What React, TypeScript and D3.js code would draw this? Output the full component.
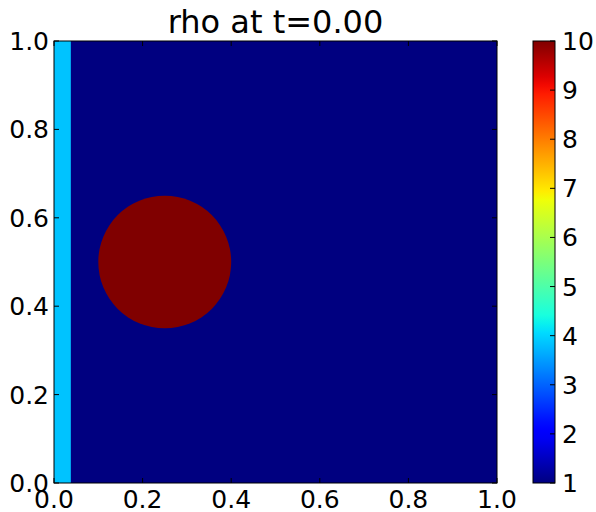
import React from "react";
import * as d3 from "d3";

// Initial density field: uniform background, a dense strip at the left wall and a dense bubble.
const fieldTitle = "rho at t=0.00";
const backgroundRho = [1];
const stripBounds = [0.0, 0.038]; // x-range of the left strip
const stripRho = [3.85];
const bubbleCenter = [0.25, 0.5];
const bubbleRadius = [0.15];
const bubbleRho = [10];
const axisTicks = [0.0, 0.2, 0.4, 0.6, 0.8, 1.0];
const colorTicks = [1, 2, 3, 4, 5, 6, 7, 8, 9, 10];
const colorDomain = [1, 10];

// matplotlib "jet" colour map, channel by channel
const jetR = d3.scaleLinear().domain([0, 0.35, 0.66, 0.89, 1]).range([0, 0, 1, 1, 0.5]).clamp(true);
const jetG = d3.scaleLinear().domain([0, 0.125, 0.375, 0.64, 0.91, 1]).range([0, 0, 1, 1, 0, 0]).clamp(true);
const jetB = d3.scaleLinear().domain([0, 0.11, 0.34, 0.65, 1]).range([0.5, 1, 1, 0, 0]).clamp(true);
const jet = (t: number) =>
  d3.rgb(Math.round(jetR(t) * 255), Math.round(jetG(t) * 255), Math.round(jetB(t) * 255)).formatHex();

const W = 596;
const H = 512;
const plot = { left: 54, right: 497, top: 41, bottom: 483 };
const cbar = { left: 533, right: 555 };
const FONT = "DejaVu Sans, sans-serif";
const TICK = 5;

export default function App() {
  const x = d3.scaleLinear().domain([0, 1]).range([plot.left, plot.right]);
  const y = d3.scaleLinear().domain([0, 1]).range([plot.bottom, plot.top]);
  const norm = d3.scaleLinear().domain(colorDomain).range([0, 1]);
  const color = (v: number) => jet(norm(v));
  const cy = d3.scaleLinear().domain(colorDomain).range([plot.bottom, plot.top]);

  const rx = x(bubbleRadius[0]) - x(0);
  const ry = y(0) - y(bubbleRadius[0]);
  const gradStops = d3.range(0, 1.0001, 0.02);

  return (
    <svg
      width={W}
      height={H}
      style={{ position: "absolute", left: 0, top: 0, display: "block" }}
      fontFamily={FONT}
    >
      <defs>
        <linearGradient id="jetbar" x1="0" y1="1" x2="0" y2="0">
          {gradStops.map((t) => (
            <stop key={t} offset={t} stopColor={jet(t)} />
          ))}
        </linearGradient>
        <clipPath id="plotclip">
          <rect x={plot.left} y={plot.top} width={plot.right - plot.left} height={plot.bottom - plot.top} />
        </clipPath>
      </defs>
      <rect width={W} height={H} fill="#fff" />

      {/* density field */}
      <g clipPath="url(#plotclip)">
        <rect
          x={x(0)}
          y={y(1)}
          width={x(1) - x(0)}
          height={y(0) - y(1)}
          fill={color(backgroundRho[0])}
        />
        <rect
          x={x(stripBounds[0])}
          y={y(1)}
          width={x(stripBounds[1]) - x(stripBounds[0])}
          height={y(0) - y(1)}
          fill={color(stripRho[0])}
        />
        <ellipse
          cx={x(bubbleCenter[0])}
          cy={y(bubbleCenter[1])}
          rx={rx}
          ry={ry}
          fill={color(bubbleRho[0])}
        />
      </g>

      {/* axis frame and inward ticks on all sides */}
      <rect
        x={plot.left}
        y={plot.top}
        width={plot.right - plot.left}
        height={plot.bottom - plot.top}
        fill="none"
        stroke="#000"
        strokeWidth={1}
      />
      {axisTicks.map((t) => (
        <g key={"x" + t} stroke="#000" strokeWidth={1}>
          <line x1={x(t)} x2={x(t)} y1={plot.bottom} y2={plot.bottom - TICK} />
          <line x1={x(t)} x2={x(t)} y1={plot.top} y2={plot.top + TICK} />
          <line x1={plot.left} x2={plot.left + TICK} y1={y(t)} y2={y(t)} />
          <line x1={plot.right} x2={plot.right - TICK} y1={y(t)} y2={y(t)} />
        </g>
      ))}
      {axisTicks.map((t) => (
        <text key={"xl" + t} x={x(t)} y={508} fontSize={25} textAnchor="middle" fill="#000">
          {d3.format(".1f")(t)}
        </text>
      ))}
      {axisTicks.map((t) => (
        <text
          key={"yl" + t}
          x={49}
          y={y(t)}
          dy="0.36em"
          fontSize={25}
          textAnchor="end"
          fill="#000"
        >
          {d3.format(".1f")(t)}
        </text>
      ))}

      {/* title */}
      <text x={(plot.left + plot.right) / 2} y={33} fontSize={32} textAnchor="middle" fill="#000">
        {fieldTitle}
      </text>

      {/* colour bar */}
      <rect
        x={cbar.left}
        y={plot.top}
        width={cbar.right - cbar.left}
        height={plot.bottom - plot.top}
        fill="url(#jetbar)"
        stroke="#000"
        strokeWidth={1}
      />
      {colorTicks.map((v) => (
        <g key={"c" + v}>
          <line x1={cbar.right} x2={cbar.right - TICK} y1={cy(v)} y2={cy(v)} stroke="#000" strokeWidth={1} />
          <text x={562} y={cy(v)} dy="0.36em" fontSize={25} fill="#000">
            {v}
          </text>
        </g>
      ))}
    </svg>
  );
}
